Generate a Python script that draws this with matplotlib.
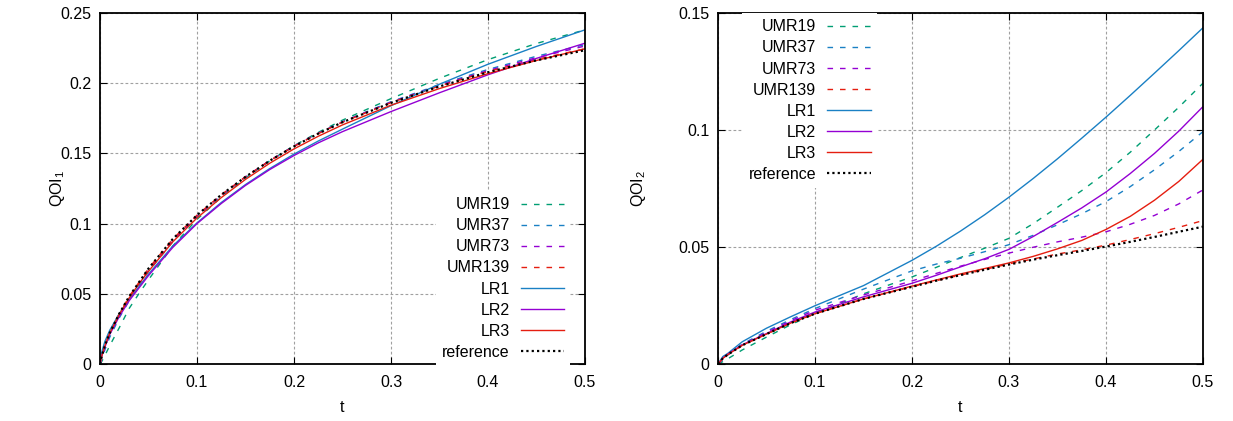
import numpy as np
import matplotlib
matplotlib.use("Agg")
import matplotlib.pyplot as plt
from matplotlib.ticker import FuncFormatter

plt.rcParams['font.family'] = ['Liberation Sans', 'DejaVu Sans']
plt.rcParams['mathtext.fontset'] = 'custom'
plt.rcParams['mathtext.rm'] = 'Liberation Sans'
plt.rcParams['mathtext.default'] = 'regular'

# ---- data ----
labels = ["UMR19", "UMR37", "UMR73", "UMR139", "LR1", "LR2", "LR3", "reference"]

t1 = [0, 0.002, 0.005, 0.01, 0.02, 0.03, 0.04, 0.05, 0.075, 0.1, 0.125, 0.15, 0.175,
      0.2, 0.225, 0.25, 0.3, 0.35, 0.4, 0.45, 0.5]
q1_umr19 = [0, 0.002, 0.006, 0.013, 0.026, 0.0395, 0.050, 0.060, 0.084, 0.103, 0.1188,
            0.1325, 0.1447, 0.1555, 0.1650, 0.1737, 0.1890, 0.2035, 0.2168, 0.2283, 0.238]
q1_umr37 = [0, 0.004, 0.010, 0.019, 0.033, 0.045, 0.056, 0.066, 0.087, 0.105, 0.1198,
            0.1330, 0.1447, 0.1551, 0.1643, 0.1726, 0.1868, 0.1990, 0.2098, 0.2192, 0.2275]
q1_umr73 = [0, 0.005, 0.012, 0.021, 0.035, 0.047, 0.057, 0.067, 0.088, 0.1055, 0.1203,
            0.1334, 0.1449, 0.1552, 0.1643, 0.1725, 0.1865, 0.1985, 0.2090, 0.2182, 0.2265]
q1_umr139 = [0, 0.006, 0.013, 0.022, 0.036, 0.048, 0.058, 0.068, 0.089, 0.106, 0.1205,
             0.1333, 0.1448, 0.1550, 0.1641, 0.1722, 0.1861, 0.1980, 0.2083, 0.2170, 0.2245]
q1_lr1 = [0, 0.009, 0.016, 0.024, 0.036, 0.046, 0.055, 0.064, 0.084, 0.1005, 0.1150,
          0.1278, 0.1392, 0.1495, 0.1588, 0.1673, 0.1840, 0.1993, 0.2135, 0.2262, 0.238]
q1_lr2 = [0, 0.006, 0.012, 0.021, 0.034, 0.045, 0.054, 0.063, 0.083, 0.100, 0.1143,
          0.1272, 0.1385, 0.1485, 0.1575, 0.1655, 0.1798, 0.1932, 0.2060, 0.2177, 0.2285]
q1_lr3 = [0, 0.006, 0.013, 0.022, 0.0355, 0.047, 0.057, 0.066, 0.087, 0.104, 0.1185,
          0.1315, 0.1430, 0.1532, 0.1622, 0.1703, 0.1843, 0.1962, 0.2068, 0.2162, 0.2245]
q1_ref = [0, 0.006, 0.013, 0.022, 0.036, 0.048, 0.058, 0.068, 0.089, 0.106, 0.1205,
          0.1333, 0.1448, 0.1550, 0.1641, 0.1722, 0.1860, 0.1977, 0.2078, 0.2163, 0.2235]

t2 = [0, 0.005, 0.01, 0.025, 0.05, 0.075, 0.1, 0.15, 0.2, 0.225, 0.25, 0.275, 0.3, 0.325,
      0.35, 0.375, 0.4, 0.425, 0.45, 0.475, 0.5]
q2_umr19 = [0, 0.001, 0.0022, 0.006, 0.0115, 0.0168, 0.0215, 0.0300, 0.0372, 0.0413, 0.0455,
            0.0495, 0.0537, 0.0600, 0.067, 0.0741, 0.0818, 0.0905, 0.100, 0.1097, 0.120]
q2_umr37 = [0, 0.002, 0.0038, 0.0085, 0.014, 0.019, 0.0237, 0.032, 0.0398, 0.0427, 0.0452,
            0.0480, 0.051, 0.0550, 0.0595, 0.0642, 0.0694, 0.0758, 0.083, 0.0908, 0.0993]
q2_umr73 = [0, 0.0022, 0.004, 0.0082, 0.0135, 0.0185, 0.023, 0.0295, 0.0355, 0.0387, 0.0418,
            0.0447, 0.0474, 0.0499, 0.0522, 0.0542, 0.0565, 0.0597, 0.0635, 0.0684, 0.0744]
q2_umr139 = [0, 0.0024, 0.004, 0.008, 0.0128, 0.0175, 0.0215, 0.0278, 0.033, 0.0356, 0.038,
             0.0404, 0.0428, 0.0449, 0.047, 0.0488, 0.0508, 0.0532, 0.0557, 0.0584, 0.0613]
q2_lr1 = [0, 0.0032, 0.0045, 0.0095, 0.0153, 0.0202, 0.0249, 0.0335, 0.0443, 0.0503, 0.0568,
          0.0638, 0.0713, 0.0793, 0.0877, 0.0965, 0.1055, 0.1148, 0.1243, 0.1339, 0.1437]
q2_lr2 = [0, 0.0025, 0.0042, 0.0082, 0.013, 0.018, 0.0222, 0.0287, 0.0345, 0.0379, 0.0415,
          0.0450, 0.049, 0.0545, 0.0605, 0.0667, 0.0735, 0.0814, 0.090, 0.0995, 0.110]
q2_lr3 = [0, 0.0024, 0.004, 0.008, 0.0128, 0.0175, 0.0215, 0.0278, 0.0333, 0.0359, 0.0385,
          0.0408, 0.0432, 0.0460, 0.0492, 0.0528, 0.0575, 0.0631, 0.070, 0.0780, 0.0875]
q2_ref = [0, 0.0024, 0.004, 0.008, 0.0128, 0.0175, 0.0215, 0.0278, 0.033, 0.0356, 0.038,
          0.0403, 0.0425, 0.0446, 0.0465, 0.0483, 0.0502, 0.0522, 0.0543, 0.0565, 0.0587]

green, blue, purple, red = "#009e73", "#1a80c4", "#9400d3", "#e51e10"
styles = [
    dict(color=green, lw=1.0, dashes=(4, 5)),
    dict(color=blue, lw=1.0, dashes=(4, 5)),
    dict(color=purple, lw=1.0, dashes=(4, 5)),
    dict(color=red, lw=1.0, dashes=(4, 5)),
    dict(color=blue, lw=1.0),
    dict(color=purple, lw=1.0),
    dict(color=red, lw=1.0),
    dict(color="black", lw=1.6, dashes=(1, 1.4)),
]

fig = plt.figure(figsize=(12.33, 4.21), dpi=100)
ax1 = fig.add_axes([100 / 1233, 1 - 364 / 421, 485 / 1233, 351 / 421])
ax2 = fig.add_axes([718 / 1233, 1 - 364 / 421, 485 / 1233, 351 / 421])

fmt = FuncFormatter(lambda v, p: "%g" % round(v, 4))


def draw(ax, t, series, ymax, ystep, ylabel, ylab_x, legend_kw):
    for y, lab, st in zip(series, labels, styles):
        ax.plot(t, y, label=lab, **st)
    ax.set_xlim(0, 0.5)
    ax.set_ylim(0, ymax)
    ax.set_xticks(np.arange(0, 0.51, 0.1))
    ax.set_yticks(np.arange(0, ymax + 1e-9, ystep))
    ax.xaxis.set_major_formatter(fmt)
    ax.yaxis.set_major_formatter(fmt)
    ax.grid(True, color="#a0a0a0", lw=0.8, dashes=(2.5, 2))
    ax.set_axisbelow(True)
    ax.tick_params(direction="in", top=True, right=True, length=5, width=0.8,
                   labelsize=11.5)
    ax.tick_params(axis="x", pad=8)
    ax.tick_params(axis="y", pad=6)
    for s in ax.spines.values():
        s.set_linewidth(1.3)
    ax.set_xlabel("t", fontsize=11.5, labelpad=7)
    ax.set_ylabel(ylabel, fontsize=11.5)
    ax.yaxis.set_label_coords(ylab_x, 0.5)
    leg = ax.legend(frameon=True, markerfirst=False, fontsize=11.5,
                    handlelength=2.7, handletextpad=0.7, labelspacing=0.38,
                    borderaxespad=0, borderpad=0.4, **legend_kw)
    leg.get_frame().set_facecolor("white")
    leg.get_frame().set_edgecolor("none")
    leg.get_frame().set_alpha(1)
    leg.get_frame().set_boxstyle("square", pad=0)


draw(ax1, t1, [q1_umr19, q1_umr37, q1_umr73, q1_umr139, q1_lr1, q1_lr2, q1_lr3, q1_ref],
     0.25, 0.05, "QOI$_1$", -0.069,
     dict(loc="lower right", bbox_to_anchor=(0.970, -0.006)))
draw(ax2, t2, [q2_umr19, q2_umr37, q2_umr73, q2_umr139, q2_lr1, q2_lr2, q2_lr3, q2_ref],
     0.15, 0.05, "QOI$_2$", -0.145,
     dict(loc="upper left", bbox_to_anchor=(0.05, 1.0)))

fig.savefig("out.png", dpi=100)
